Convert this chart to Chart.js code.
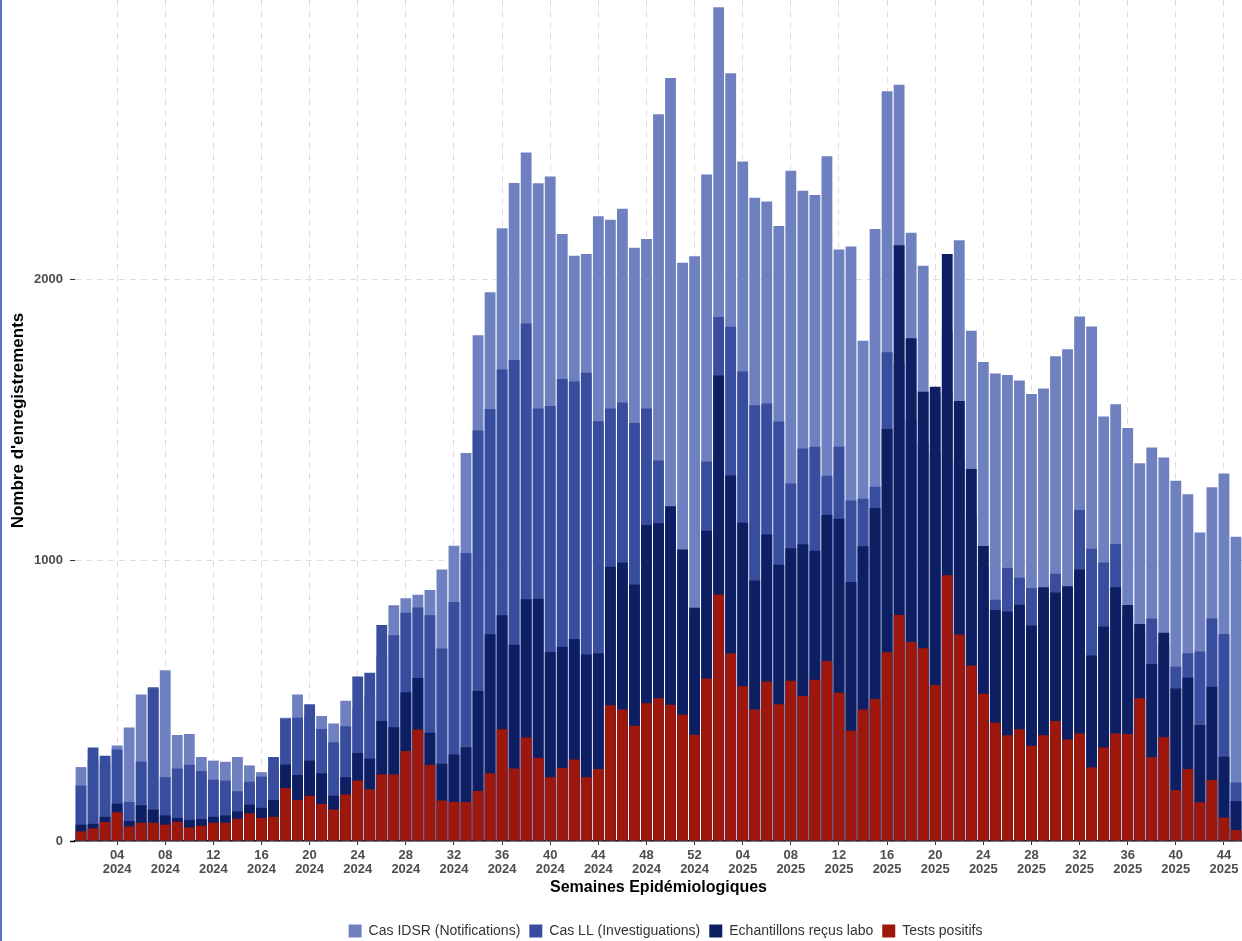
<!DOCTYPE html>
<html>
<head>
<meta charset="utf-8">
<script src="https://cdn.jsdelivr.net/npm/chart.js@4.4.1/dist/chart.umd.min.js"></script>
<style>
  html, body { margin: 0; padding: 0; background: #ffffff; overflow: hidden; }
  #wrap { position: relative; width: 1242px; height: 941px; }
  #edge { position: absolute; left: 0; top: 0; width: 2px; height: 941px; background: #5573d2; }
</style>
</head>
<body>
<div id="wrap">
  <canvas id="chart" width="1242" height="941"></canvas>
  <div id="edge"></div>
</div>
<script>
// Epidemiological weeks shown: 2024 W01–W52, 2025 W01–W45
const weeksPerYear = [{ year: '2024', count: 52 }, { year: '2025', count: 45 }];

// Weekly counts, 2024 W01 onward
const casIDSR = [
  263, 292, 276, 340, 404, 521, 548, 608, 377, 381, 299, 286, 282,
  299, 269, 245, 258, 439, 521, 445, 445, 418, 499, 469, 517, 660,
  839, 864, 876, 893, 966, 1051, 1381, 1800, 1953, 2181, 2342, 2450, 2341,
  2365, 2160, 2083, 2089, 2223, 2211, 2250, 2111, 2142, 2586, 2715, 2058, 2081,
  2372, 2967, 2732, 2418, 2289, 2276, 2189, 2385, 2314, 2299, 2437, 2105, 2116,
  1780, 2178, 2668, 2691, 2165, 2047, 1593, 1815, 2138, 1816, 1705, 1664, 1658,
  1639, 1591, 1610, 1725, 1750, 1867, 1831, 1511, 1554, 1470, 1344, 1400, 1365,
  1282, 1234, 1098, 1259, 1308, 1083
];
const casLL = [
  197, 333, 303, 326, 139, 283, 544, 227, 258, 271, 249, 218, 215,
  177, 211, 229, 299, 435, 439, 487, 399, 351, 408, 585, 599, 769,
  732, 812, 831, 803, 685, 851, 1025, 1461, 1537, 1678, 1712, 1842, 1539,
  1548, 1644, 1635, 1666, 1494, 1539, 1561, 1488, 1539, 1354, 1160, 980, 790,
  1351, 1865, 1830, 1671, 1551, 1557, 1493, 1272, 1397, 1403, 1300, 1403, 1212,
  1218, 1261, 1739, 1700, 1500, 1420, 1380, 1600, 1350, 1150, 980, 859, 972,
  937, 900, 860, 951, 870, 1178, 1040, 991, 1057, 800, 740, 792, 700,
  620, 668, 674, 792, 737, 208
];
const echantillons = [
  58, 61, 86, 133, 71, 127, 112, 91, 82, 75, 78, 86, 91,
  105, 129, 118, 146, 272, 235, 286, 241, 161, 227, 313, 293, 427,
  405, 529, 580, 385, 275, 308, 334, 534, 736, 803, 698, 860, 862,
  673, 691, 719, 664, 668, 976, 991, 913, 1125, 1131, 1191, 1037, 830,
  1104, 1657, 1301, 1133, 927, 1091, 983, 1042, 1056, 1033, 1160, 1147, 922,
  1049, 1185, 1466, 2120, 1789, 1599, 1617, 2089, 1566, 1324, 1050, 822, 817,
  841, 767, 903, 884, 907, 966, 660, 763, 903, 840, 772, 630, 741,
  543, 581, 413, 549, 300, 142
];
const testsPositifs = [
  34, 45, 68, 102, 52, 65, 65, 58, 68, 48, 54, 65, 65,
  79, 98, 82, 86, 188, 146, 161, 132, 112, 166, 215, 184, 237,
  237, 320, 397, 271, 144, 139, 139, 178, 241, 398, 258, 368, 296,
  227, 260, 290, 227, 256, 483, 468, 410, 490, 508, 485, 449, 378,
  578, 877, 667, 551, 468, 568, 487, 570, 516, 574, 641, 528, 392,
  468, 505, 672, 804, 708, 686, 555, 946, 735, 625, 524, 421, 376,
  398, 339, 376, 427, 361, 383, 262, 333, 383, 381, 508, 298, 369,
  181, 256, 138, 217, 83, 39
];

// Value-axis tick labels
const yTicks = [0, 1000, 2000];

// Category labels: two lines, week number and year
const labels = [];
weeksPerYear.forEach(({ year, count }) => {
  for (let w = 1; w <= count; w++) {
    labels.push([String(w).padStart(2, '0'), year]);
  }
});

const FONT = "'Liberation Sans', Arial, Helvetica, sans-serif";
const GRID = '#dddddd';

// Nudges the legend block a few pixels to the right of the plot centre
const legendShift = {
  id: 'legendShift',
  afterLayout(chart) {
    if (chart.legend) {
      chart.legend.left += 7;
      chart.legend.right += 7;
    }
  }
};

new Chart(document.getElementById('chart'), {
  type: 'bar',
  plugins: [legendShift],
  data: {
    labels,
    datasets: [
      { label: 'Cas IDSR (Notifications)', data: casIDSR, backgroundColor: '#6f80c0', order: 4 },
      { label: 'Cas LL (Investiguations)', data: casLL, backgroundColor: '#394d9f', order: 3 },
      { label: 'Echantillons reçus labo', data: echantillons, backgroundColor: '#0d1e62', order: 2 },
      { label: 'Tests positifs', data: testsPositifs, backgroundColor: '#9e170c', order: 1 }
    ]
  },
  options: {
    responsive: false,
    animation: false,
    devicePixelRatio: 1,
    datasets: {
      bar: { grouped: false, categoryPercentage: 1, barPercentage: 0.9 }
    },
    layout: { padding: { left: 0, right: 0, top: 0, bottom: -7 } },
    plugins: {
      legend: {
        position: 'bottom',
        fullSize: false,
        labels: {
          boxWidth: 13,
          boxHeight: 13,
          padding: 9,
          color: '#333333',
          font: { family: FONT, size: 14 },
          sort: (a, b) => a.datasetIndex - b.datasetIndex
        }
      },
      tooltip: { enabled: false }
    },
    scales: {
      x: {
        offset: true,
        grid: { offset: false, color: GRID, lineWidth: 1, drawTicks: true, tickLength: 4, tickColor: '#333333', tickWidth: 1 },
        border: { display: true, color: '#000000', width: 1.5, dash: [6, 5] },
        ticks: {
          autoSkip: false,
          maxRotation: 0,
          minRotation: 0,
          padding: 3,
          color: '#4d4d4d',
          font: { family: FONT, size: 13, weight: 'bold', lineHeight: 1.1 },
          callback: function (value, index) {
            const lab = labels[index];
            return parseInt(lab[0], 10) % 4 === 0 ? lab : null;
          }
        },
        title: {
          display: true,
          text: 'Semaines Epidémiologiques',
          color: '#000000',
          font: { family: FONT, size: 16, weight: 'bold' },
          padding: { top: 0, bottom: 18 }
        },
        afterFit: (s) => { s.height = 74; s.paddingLeft = 0; s.paddingRight = 0; }
      },
      y: {
        min: 0,
        max: 2993,
        afterBuildTicks: (s) => { s.ticks = yTicks.map(v => ({ value: v })); },
        grid: {
          color: GRID,
          lineWidth: 1,
          tickLength: 5,
          tickColor: (c) => (c.tick && c.tick.value === 0 ? '#000000' : '#333333'),
          tickWidth: (c) => (c.tick && c.tick.value === 0 ? 1.5 : 1)
        },
        border: { display: false, dash: [6, 5] },
        ticks: {
          padding: 7,
          color: '#4d4d4d',
          font: { family: FONT, size: 13, weight: 'bold' },
          callback: (v) => String(v)
        },
        title: {
          display: true,
          text: "Nombre d'enregistrements",
          color: '#000000',
          font: { family: FONT, size: 17, weight: 'bold' },
          padding: { top: 8, bottom: 0 }
        },
        afterFit: (s) => { s.width = 75; s.paddingTop = 0; s.paddingBottom = 0; }
      }
    }
  }
});
</script>
</body>
</html>
